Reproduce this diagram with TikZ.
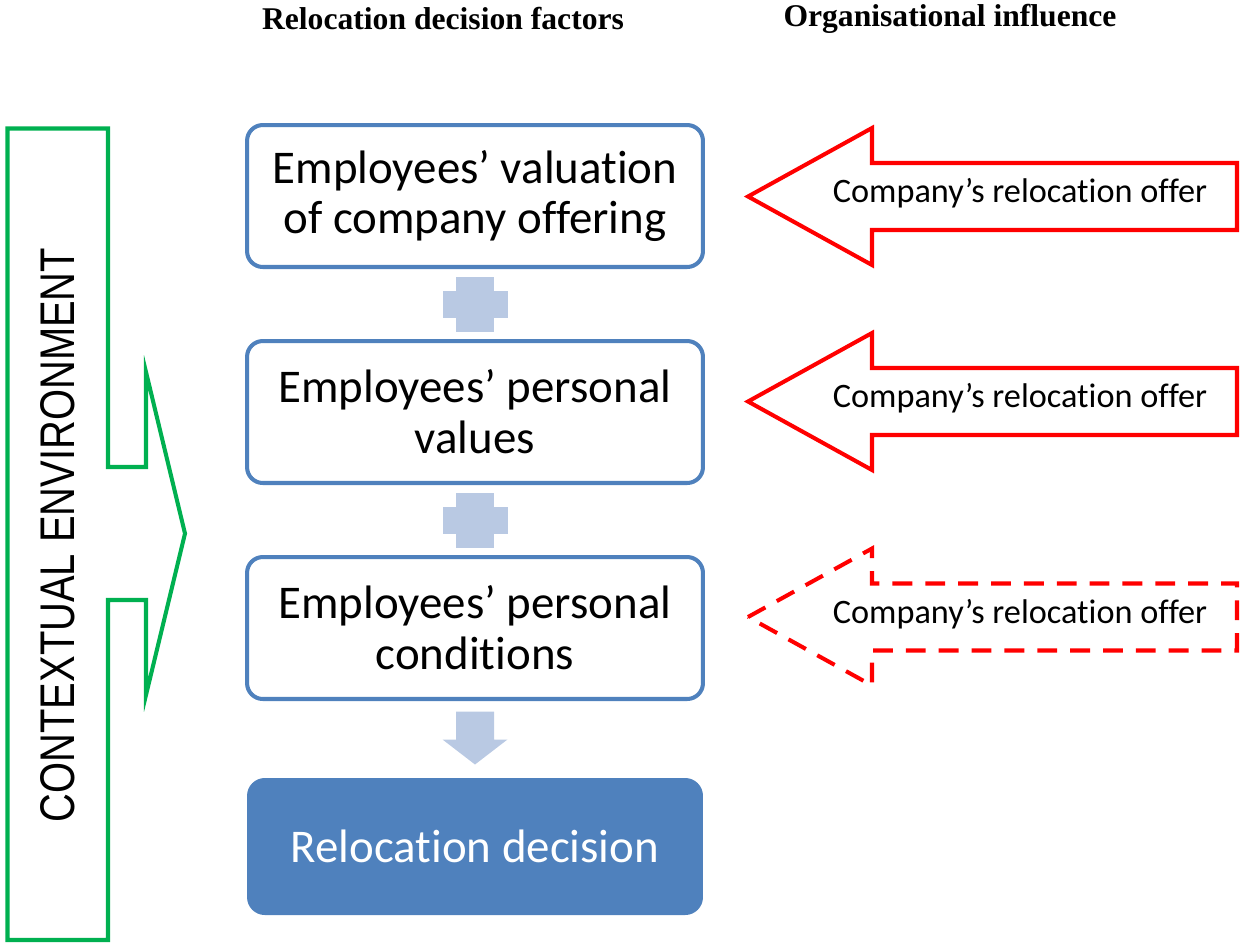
\documentclass[tikz,border=0pt]{standalone}
\usepackage{fontspec}
\setmainfont{Carlito}[Ligatures=NoCommon]
\newfontfamily\headfont{Liberation Serif}
\newfontfamily\narrowfont[FakeStretch=0.82]{Liberation Sans}
\usetikzlibrary{positioning}

\definecolor{boxblue}{HTML}{4F81BD}
\definecolor{stepblue}{HTML}{B9C9E3}
\definecolor{envgreen}{HTML}{00B050}

\begin{document}
\begin{tikzpicture}[
  x=0.02cm, y=-0.02cm,
  node distance=1.4cm,
  factor/.style={draw=boxblue, line width=2.3pt, rounded corners=9pt,
     fill=white, minimum width=9.12cm, minimum height=2.84cm,
     align=center, font=\fontsize{26.7}{29}\selectfont},
  heading/.style={font=\headfont\bfseries\fontsize{18}{20}\selectfont}]

\tikzset{offer arrow/.style={draw=red, line width=2.3pt, line join=miter},
  offer dashed/.style={dash pattern=on 11.3pt off 7.4pt},
  offer text/.style={font=\fontsize{19.5}{22}\selectfont}}

  \useasboundingbox (0,0) rectangle (1240,944);

  % column headings
  \node[heading] (hfactors) at (443,19) {Relocation decision factors};
  \node[heading] (hinfluence) at (950,19) {Organisational influence};

  % decision factors
  \node[factor] (valuation) at (475,196) {Employees’ valuation\\of company offering};
  \node[factor, below=of valuation] (values) {Employees’ personal\\values};
  \node[factor, below=of values] (conditions) {Employees’ personal\\conditions};
  \node[factor, fill=boxblue, draw=boxblue, text=white, minimum width=9.04cm,
    minimum height=2.66cm, below=1.54cm of conditions] (decision) {Relocation decision};

  % plus signs between the factors
  \foreach \a/\b in {valuation/values, values/conditions}{
    \path (\a.south) -- (\b.north) coordinate[midway] (m);
    \fill[stepblue] (m) ++(-32.5,-13.5) rectangle ++(65,27);
    \fill[stepblue] (m) ++(-19,-27.5) rectangle ++(38,55);
  }

  % arrow to the decision
  \path (conditions.south) -- (decision.north) coordinate[midway] (d);
  \fill[stepblue] (d) ++(-19,-28) -- ++(38,0) -- ++(0,28) -- ++(13.5,0)
    -- ++(-32.5,25) -- ++(-32.5,-25) -- ++(13.5,0) -- cycle;

  % company offers
  \foreach \y/\kind [count=\i] in {196.5/solid, 401.5/solid, 617/offer dashed}{
    \coordinate (tip\i) at (748,\y);
    \draw[offer arrow, \kind] (tip\i) -- ++(124,-68.5) -- ++(0,35) -- (1237,\y-33.5)
      -- (1237,\y+33.5) -- (872,\y+33.5) -- ++(0,35) -- cycle;
    \node[offer text] (offer\i) at (1020,\y-3) {Company’s relocation offer};
  }

  % contextual environment
  \draw[envgreen, line width=2.3pt, line join=miter] (7.5,128.5) -- (108,128.5) -- (108,467)
    -- (146,467) -- (146,372) -- (185,533.5) -- (146,695) -- (146,600) -- (108,600)
    -- (108,940) -- (7.5,940) -- cycle;
  \node[rotate=90, font=\narrowfont\fontsize{27.7}{30}\selectfont] (env) at (58,535)
    {CONTEXTUAL ENVIRONMENT};
\end{tikzpicture}
\end{document}
